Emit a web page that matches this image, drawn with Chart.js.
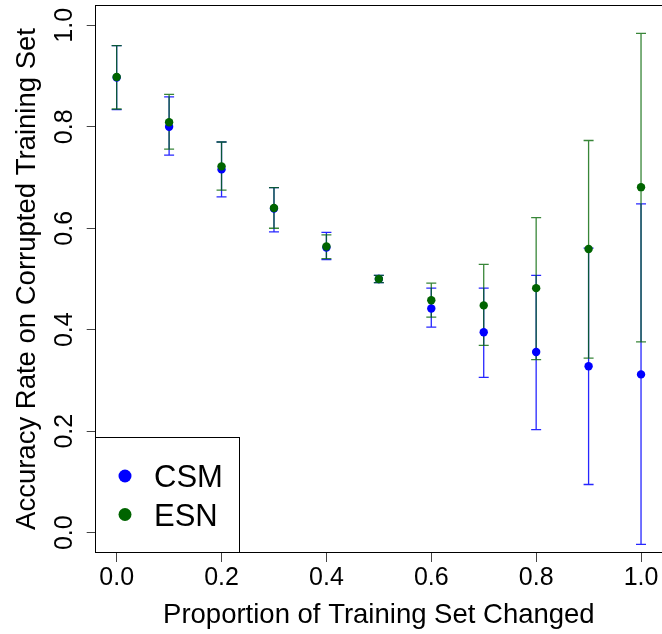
<!DOCTYPE html>
<html>
<head>
<meta charset="utf-8">
<script src="https://cdn.jsdelivr.net/npm/chart.js@4.4.1/dist/chart.umd.min.js"></script>
<style>
  html, body { margin: 0; padding: 0; background: #ffffff; }
  #wrap { width: 662px; height: 634px; position: relative; }
</style>
</head>
<body>
<div id="wrap"><canvas id="c" width="662" height="634"></canvas></div>
<script>
// ---- data ----
const proportions = [0.0, 0.1, 0.2, 0.3, 0.4, 0.5, 0.6, 0.7, 0.8, 0.9, 1.0];
const csmMean = [0.897, 0.800, 0.716, 0.639, 0.562, 0.500, 0.442, 0.395, 0.356, 0.328, 0.312];
const csmLow  = [0.834, 0.744, 0.662, 0.593, 0.538, 0.493, 0.405, 0.306, 0.203, 0.095, -0.023];
const csmHigh = [0.960, 0.859, 0.770, 0.680, 0.592, 0.507, 0.482, 0.482, 0.507, 0.561, 0.648];
const esnMean = [0.898, 0.809, 0.722, 0.640, 0.564, 0.500, 0.458, 0.448, 0.482, 0.559, 0.681];
const esnLow  = [0.835, 0.756, 0.675, 0.600, 0.540, 0.493, 0.425, 0.369, 0.341, 0.344, 0.376];
const esnHigh = [0.960, 0.864, 0.770, 0.680, 0.587, 0.507, 0.492, 0.529, 0.621, 0.773, 0.984];
const xTicks = [0.0, 0.2, 0.4, 0.6, 0.8, 1.0];
const yTicks = [0.0, 0.2, 0.4, 0.6, 0.8, 1.0];
const seriesNames = ['CSM', 'ESN'];
const xTitle = 'Proportion of Training Set Changed';
const yTitle = 'Accuracy Rate on Corrupted Training Set';

const FONT = "'Liberation Sans', Arial, Helvetica, sans-serif";
const BLUE = '#0000FF';
const GREEN = '#006400';

function pts(means) { return proportions.map((x, i) => ({ x: x, y: means[i] })); }

const errorBars = [
  { low: csmLow, high: csmHigh, color: 'rgba(0,0,255,0.85)' },
  { low: esnLow, high: esnHigh, color: 'rgba(0,100,0,0.78)' }
];

const errorBarPlugin = {
  id: 'errorBars',
  beforeDatasetsDraw(chart) {
    const { ctx, scales: { x, y } } = chart;
    ctx.save();
    ctx.lineWidth = 1.3;
    errorBars.forEach(eb => {
      ctx.strokeStyle = eb.color;
      proportions.forEach((p, i) => {
        const px = x.getPixelForValue(p);
        const y1 = y.getPixelForValue(eb.low[i]);
        const y2 = y.getPixelForValue(eb.high[i]);
        ctx.beginPath();
        ctx.moveTo(px, y1); ctx.lineTo(px, y2);
        ctx.moveTo(px - 5, y1); ctx.lineTo(px + 5, y1);
        ctx.moveTo(px - 5, y2); ctx.lineTo(px + 5, y2);
        ctx.stroke();
      });
    });
    ctx.restore();
  }
};

const framePlugin = {
  id: 'frameLegend',
  afterDraw(chart) {
    const { ctx, chartArea: a } = chart;
    ctx.save();
    ctx.strokeStyle = '#000';
    ctx.lineWidth = 1;
    ctx.strokeRect(Math.round(a.left) - 0.5, Math.round(a.top) + 0.5,
                   Math.round(a.right - a.left) + 1, Math.round(a.bottom - a.top) - 1);
    // legend box (bottom-left inside plot)
    const lx = Math.round(a.left) - 0.5, ly = 437.5, lw = 144, lh = Math.round(a.bottom) - 437 - 1;
    ctx.fillStyle = '#fff';
    ctx.fillRect(lx, ly, lw, lh);
    ctx.strokeRect(lx, ly, lw, lh);
    const colors = [BLUE, GREEN];
    const rowsY = [476, 514.5];
    ctx.font = '31px ' + FONT;
    ctx.textBaseline = 'alphabetic';
    ctx.textAlign = 'left';
    seriesNames.forEach((name, i) => {
      ctx.fillStyle = colors[i];
      ctx.beginPath();
      ctx.arc(125, rowsY[i], 6.5, 0, Math.PI * 2);
      ctx.fill();
      ctx.fillStyle = '#000';
      ctx.fillText(name, 154, rowsY[i] + 11);
    });
    ctx.restore();
  }
};

function noPad(s) { s.paddingTop = 0; s.paddingBottom = 0; s.paddingLeft = 0; s.paddingRight = 0; }

new Chart(document.getElementById('c'), {
  type: 'scatter',
  data: {
    datasets: [
      { label: seriesNames[0], data: pts(csmMean), backgroundColor: BLUE, borderColor: BLUE,
        pointRadius: 4.2, pointBorderWidth: 0, order: 2 },
      { label: seriesNames[1], data: pts(esnMean), backgroundColor: GREEN, borderColor: GREEN,
        pointRadius: 4.2, pointBorderWidth: 0, order: 1 }
    ]
  },
  options: {
    responsive: false,
    animation: false,
    events: [],
    layout: { autoPadding: false, padding: { top: 5, right: 0, left: 0, bottom: 0 } },
    plugins: { legend: { display: false }, tooltip: { enabled: false } },
    scales: {
      x: {
        type: 'linear', position: 'bottom', min: -0.04, max: 1.04,
        afterBuildTicks(s) { s.ticks = xTicks.map(v => ({ value: v })); },
        afterFit(s) { s.height = 81; noPad(s); },
        border: { display: false },
        grid: { drawOnChartArea: false, drawTicks: true, tickLength: 9, color: '#444', lineWidth: 1 },
        ticks: { callback: v => Number(v).toFixed(1), color: '#000', padding: 1,
                 font: { family: FONT, size: 25 }, maxRotation: 0, minRotation: 0, autoSkip: false },
        title: { display: true, text: xTitle, color: '#000', font: { family: FONT, size: 27.5 },
                 padding: { top: 0, bottom: 2.3 } }
      },
      y: {
        type: 'linear', position: 'left', min: -0.04, max: 1.04,
        afterBuildTicks(s) { s.ticks = yTicks.map(v => ({ value: v })); },
        afterFit(s) { s.width = 95.7; noPad(s); },
        border: { display: false },
        grid: { drawOnChartArea: false, drawTicks: true, tickLength: 9, color: '#444', lineWidth: 1 },
        ticks: { callback: v => Number(v).toFixed(1), color: '#000', padding: 3.8,
                 font: { family: FONT, size: 25 }, minRotation: 90, maxRotation: 90,
                 crossAlign: 'center', autoSkip: false },
        title: { display: true, text: yTitle, color: '#000', font: { family: FONT, size: 27.5 },
                 padding: { top: 11.1, bottom: 0 } }
      }
    }
  },
  plugins: [errorBarPlugin, framePlugin]
});
</script>
</body>
</html>
